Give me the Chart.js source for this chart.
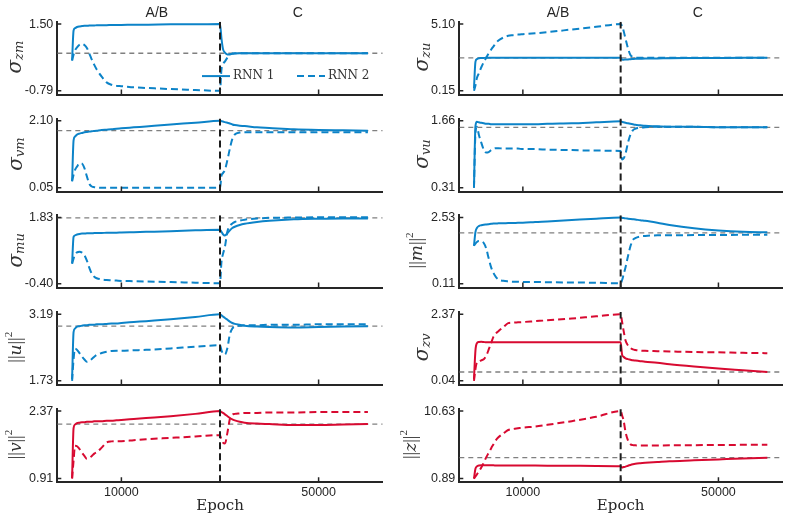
<!DOCTYPE html>
<html>
<head>
<meta charset="utf-8">
<script src="https://cdn.jsdelivr.net/npm/chart.js@4.4.1/dist/chart.umd.min.js"></script>
<style>
    html, body { margin: 0; padding: 0; background: #fff; }
    #wrap { position: relative; width: 792px; height: 519px; overflow: hidden; }
    #wrap canvas { position: absolute; }
</style>
</head>
<body>
<div id="wrap"></div>
<script>
/* ---------- Data ---------- */
const EPOCHS = [0, 300, 600, 1000, 1500, 2000, 2500, 3000, 3500, 4000, 4500, 5000, 6000, 7000, 8000, 9000, 10000,
    12500, 15000, 20000, 25000, 30000, 30300, 30600, 31000, 31500, 32000, 32500, 33000, 34000, 35000, 37500, 40000,
    45000, 50000, 55000, 60000];
const X_TICKS = [10000, 30000, 50000];
const SWITCH_EPOCH = 30000;
const PHASE_LABELS = ["A/B", "C"];
const SERIES_LABELS = ["RNN 1", "RNN 2"];

// sigma_zm
const SIGMA_ZM_TICKS = [-0.79, 1.50];
const SIGMA_ZM_REF = 0.50;
const SIGMA_ZM_RNN1 = [0.25, 1.28, 1.36, 1.40, 1.42, 1.43, 1.44, 1.44, 1.45, 1.45, 1.45, 1.46, 1.46, 1.46, 1.47, 1.47, 1.47,
    1.48, 1.48, 1.49, 1.49, 1.50, 1.00, 0.65, 0.52, 0.46, 0.46, 0.48, 0.49, 0.50, 0.50, 0.50, 0.50, 0.50, 0.50, 0.50, 0.50];
const SIGMA_ZM_RNN2 = [0.25, 0.45, 0.60, 0.70, 0.79, 0.82, 0.78, 0.68, 0.49, 0.28, 0.10, -0.06, -0.30, -0.50, -0.58, -0.62, -0.63,
    -0.67, -0.69, -0.73, -0.76, -0.79, -0.05, 0.12, 0.22, 0.35, 0.46, 0.49, 0.50, 0.50, 0.50, 0.50, 0.50, 0.50, 0.50, 0.50, 0.50];

// sigma_vm
const SIGMA_VM_TICKS = [0.05, 2.10];
const SIGMA_VM_REF = 1.80;
const SIGMA_VM_RNN1 = [0.25, 1.50, 1.62, 1.68, 1.71, 1.73, 1.75, 1.76, 1.77, 1.78, 1.79, 1.80, 1.82, 1.83, 1.84, 1.86, 1.87,
    1.90, 1.93, 1.99, 2.04, 2.10, 2.09, 2.08, 2.06, 2.04, 2.02, 1.99, 1.97, 1.95, 1.94, 1.90, 1.88, 1.84, 1.82, 1.81, 1.80];
const SIGMA_VM_RNN2 = [0.25, 0.45, 0.60, 0.70, 0.80, 0.79, 0.65, 0.40, 0.17, 0.09, 0.07, 0.06, 0.05, 0.05, 0.05, 0.05, 0.05,
    0.05, 0.05, 0.05, 0.05, 0.05, 0.42, 0.50, 0.60, 0.90, 1.25, 1.55, 1.68, 1.74, 1.75, 1.75, 1.75, 1.75, 1.75, 1.75, 1.75];

// sigma_mu
const SIGMA_MU_TICKS = [-0.40, 1.83];
const SIGMA_MU_REF = 1.82;
const SIGMA_MU_RNN1 = [0.28, 1.18, 1.23, 1.26, 1.28, 1.29, 1.29, 1.30, 1.30, 1.30, 1.31, 1.31, 1.31, 1.32, 1.32, 1.32, 1.33,
    1.34, 1.35, 1.37, 1.40, 1.42, 1.35, 1.27, 1.23, 1.30, 1.40, 1.48, 1.52, 1.58, 1.62, 1.68, 1.72, 1.77, 1.79, 1.80, 1.80];
const SIGMA_MU_RNN2 = [0.28, 0.45, 0.58, 0.66, 0.68, 0.65, 0.56, 0.38, 0.14, -0.06, -0.16, -0.21, -0.25, -0.27, -0.28, -0.29, -0.30,
    -0.31, -0.32, -0.34, -0.36, -0.38, 0.35, 0.60, 0.85, 1.36, 1.55, 1.63, 1.68, 1.73, 1.76, 1.80, 1.82, 1.83, 1.84, 1.84, 1.84];

// ||u||^2
const NORM_U_TICKS = [1.73, 3.19];
const NORM_U_REF = 2.93;
const NORM_U_RNN1 = [1.77, 2.80, 2.88, 2.92, 2.93, 2.94, 2.95, 2.95, 2.96, 2.96, 2.96, 2.97, 2.97, 2.98, 2.99, 2.99, 3.00,
    3.02, 3.04, 3.08, 3.13, 3.19, 3.17, 3.14, 3.11, 3.07, 3.03, 3.00, 2.98, 2.96, 2.94, 2.92, 2.91, 2.90, 2.91, 2.92, 2.93];
const NORM_U_RNN2 = [1.73, 2.20, 2.44, 2.41, 2.34, 2.26, 2.20, 2.15, 2.17, 2.21, 2.26, 2.30, 2.34, 2.37, 2.385, 2.39, 2.39,
    2.40, 2.41, 2.44, 2.48, 2.51, 2.40, 2.33, 2.31, 2.45, 2.75, 2.88, 2.92, 2.94, 2.95, 2.95, 2.96, 2.96, 2.97, 2.97, 2.97];

// ||v||^2
const NORM_V_TICKS = [0.91, 2.37];
const NORM_V_REF = 2.09;
const NORM_V_RNN1 = [0.92, 2.00, 2.08, 2.11, 2.12, 2.13, 2.13, 2.14, 2.14, 2.14, 2.15, 2.15, 2.15, 2.16, 2.16, 2.17, 2.18,
    2.20, 2.22, 2.26, 2.31, 2.37, 2.35, 2.33, 2.30, 2.26, 2.22, 2.19, 2.17, 2.14, 2.12, 2.10, 2.09, 2.07, 2.07, 2.08, 2.09];
const NORM_V_RNN2 = [0.91, 1.30, 1.62, 1.61, 1.55, 1.47, 1.40, 1.34, 1.36, 1.40, 1.45, 1.48, 1.58, 1.69, 1.715, 1.72, 1.72,
    1.74, 1.76, 1.79, 1.82, 1.85, 1.75, 1.69, 1.67, 1.90, 2.20, 2.29, 2.31, 2.32, 2.33, 2.33, 2.34, 2.34, 2.35, 2.35, 2.35];

// sigma_zu
const SIGMA_ZU_TICKS = [0.15, 5.10];
const SIGMA_ZU_REF = 2.60;
const SIGMA_ZU_RNN1 = [0.32, 2.30, 2.50, 2.56, 2.58, 2.59, 2.60, 2.60, 2.60, 2.60, 2.60, 2.60, 2.60, 2.60, 2.60, 2.60, 2.60,
    2.60, 2.60, 2.60, 2.60, 2.60, 2.47, 2.46, 2.47, 2.48, 2.50, 2.51, 2.52, 2.53, 2.54, 2.55, 2.57, 2.58, 2.59, 2.60, 2.60];
const SIGMA_ZU_RNN2 = [0.15, 0.55, 1.10, 1.45, 1.90, 2.28, 2.60, 2.92, 3.20, 3.45, 3.70, 3.88, 4.10, 4.23, 4.28, 4.32, 4.35,
    4.42, 4.50, 4.70, 4.90, 5.10, 4.95, 4.60, 4.00, 3.30, 2.80, 2.66, 2.62, 2.60, 2.60, 2.60, 2.60, 2.60, 2.60, 2.60, 2.60];

// sigma_vu
const SIGMA_VU_TICKS = [0.31, 1.66];
const SIGMA_VU_REF = 1.53;
const SIGMA_VU_RNN1 = [0.31, 1.55, 1.64, 1.63, 1.62, 1.61, 1.60, 1.60, 1.59, 1.59, 1.59, 1.59, 1.59, 1.59, 1.59, 1.59, 1.59,
    1.59, 1.60, 1.61, 1.63, 1.65, 1.64, 1.63, 1.62, 1.61, 1.60, 1.59, 1.58, 1.57, 1.56, 1.55, 1.54, 1.54, 1.53, 1.53, 1.53];
const SIGMA_VU_RNN2 = [0.31, 1.40, 1.54, 1.38, 1.22, 1.08, 1.02, 1.03, 1.07, 1.10, 1.11, 1.11, 1.10, 1.10, 1.10, 1.10, 1.09,
    1.09, 1.08, 1.07, 1.06, 1.05, 0.88, 0.90, 1.00, 1.22, 1.38, 1.47, 1.50, 1.52, 1.53, 1.54, 1.54, 1.54, 1.53, 1.53, 1.53];

// ||m||^2
const NORM_M_TICKS = [0.11, 2.53];
const NORM_M_REF = 1.97;
const NORM_M_RNN1 = [1.50, 2.00, 2.15, 2.22, 2.25, 2.27, 2.28, 2.29, 2.30, 2.31, 2.31, 2.32, 2.32, 2.33, 2.33, 2.34, 2.34,
    2.37, 2.39, 2.44, 2.49, 2.53, 2.52, 2.51, 2.50, 2.49, 2.48, 2.47, 2.46, 2.43, 2.41, 2.34, 2.26, 2.14, 2.06, 2.01, 1.99];
const NORM_M_RNN2 = [1.50, 1.58, 1.64, 1.67, 1.66, 1.60, 1.40, 1.05, 0.72, 0.50, 0.36, 0.27, 0.22, 0.20, 0.19, 0.19, 0.18,
    0.18, 0.17, 0.16, 0.15, 0.13, 0.25, 0.45, 0.72, 1.12, 1.48, 1.71, 1.78, 1.84, 1.86, 1.88, 1.88, 1.89, 1.89, 1.90, 1.90];

// sigma_zv
const SIGMA_ZV_TICKS = [0.04, 2.37];
const SIGMA_ZV_REF = 0.35;
const SIGMA_ZV_RNN1 = [0.10, 1.10, 1.36, 1.40, 1.41, 1.40, 1.39, 1.39, 1.39, 1.39, 1.39, 1.39, 1.39, 1.39, 1.39, 1.39, 1.39,
    1.39, 1.39, 1.39, 1.39, 1.39, 0.95, 0.88, 0.83, 0.80, 0.78, 0.76, 0.75, 0.73, 0.71, 0.67, 0.62, 0.54, 0.47, 0.41, 0.35];
const SIGMA_ZV_RNN2 = [0.04, 0.45, 0.68, 0.72, 0.76, 0.80, 0.92, 1.13, 1.36, 1.59, 1.70, 1.78, 1.92, 2.06, 2.08, 2.09, 2.10,
    2.13, 2.16, 2.22, 2.30, 2.37, 2.10, 1.80, 1.45, 1.28, 1.19, 1.14, 1.12, 1.10, 1.09, 1.08, 1.07, 1.05, 1.04, 1.02, 1.01];

// ||z||^2
const NORM_Z_TICKS = [0.89, 10.63];
const NORM_Z_REF = 3.91;
const NORM_Z_RNN1 = [0.89, 2.30, 2.65, 2.78, 2.80, 2.80, 2.80, 2.80, 2.80, 2.80, 2.79, 2.79, 2.79, 2.79, 2.78, 2.78, 2.78,
    2.77, 2.76, 2.74, 2.72, 2.68, 2.50, 2.55, 2.62, 2.75, 2.86, 2.95, 3.02, 3.10, 3.16, 3.28, 3.40, 3.52, 3.66, 3.80, 3.91];
const NORM_Z_RNN2 = [0.89, 1.20, 1.50, 1.90, 2.50, 3.20, 3.95, 4.60, 5.25, 5.85, 6.45, 6.85, 7.40, 7.90, 8.05, 8.15, 8.25,
    8.40, 8.65, 9.18, 9.80, 10.63, 10.00, 9.30, 7.60, 6.40, 5.85, 5.72, 5.69, 5.68, 5.68, 5.68, 5.69, 5.71, 5.74, 5.76, 5.78];

/* ---------- Styles / layout ---------- */
const BLUE = "#0c83c8";
const RED = "#d80a31";
const AXIS_COLOR = "#262626";
const TEXT_COLOR = "#262626";
const SANS = '"Liberation Sans", Arial, sans-serif';
const SERIF = '"DejaVu Serif", serif';
const TIMES = '"Liberation Serif", serif';

const X_MIN = -3000, X_MAX = 63000;
const COL_X = [0, 400];
const PLOT_LEFT = [57.3, 59.3];
const PLOT_RIGHT_PAD = [9.3, 10];
const CANVAS_W = 392;
const ROW_BOTTOM0 = 95.3, ROW_PITCH = 96.75, PLOT_H = 73.5, TOP_SPACE = 20;
const TOP_GAP_PX = 2.3, BOTTOM_GAP_PX = 3.7; // distance of end ticks from plot edges
const LABEL_BASE_X = [[20.7, 21.7, 21.7, 20.5, 20.5], [28.3, 28.3, 21.7, 28.3, 15.5]];
const PHASE_LABEL_X = [17200, 45800];
const LEGEND_X = [144.7, 239.7], LEGEND_DY = 54.3;

function sigmaLabel(sub) {
    return [
        { text: "σ", font: "italic 20px " + SERIF },
        { text: sub, font: "italic 13px " + SERIF, dy: 2 }
    ];
}
function normLabel(v) {
    return [
        { text: "||", font: "18px " + TIMES },
        { text: v, font: "italic 17px " + SERIF },
        { text: "||", font: "18px " + TIMES },
        { text: "2", font: "11px " + TIMES, dy: -9 }
    ];
}

const PANELS = [
    [
        { rnn1: SIGMA_ZM_RNN1, rnn2: SIGMA_ZM_RNN2, ticks: SIGMA_ZM_TICKS, ref: SIGMA_ZM_REF, color: BLUE, label: sigmaLabel("zm") },
        { rnn1: SIGMA_VM_RNN1, rnn2: SIGMA_VM_RNN2, ticks: SIGMA_VM_TICKS, ref: SIGMA_VM_REF, color: BLUE, label: sigmaLabel("vm") },
        { rnn1: SIGMA_MU_RNN1, rnn2: SIGMA_MU_RNN2, ticks: SIGMA_MU_TICKS, ref: SIGMA_MU_REF, color: BLUE, label: sigmaLabel("mu") },
        { rnn1: NORM_U_RNN1, rnn2: NORM_U_RNN2, ticks: NORM_U_TICKS, ref: NORM_U_REF, color: BLUE, label: normLabel("u") },
        { rnn1: NORM_V_RNN1, rnn2: NORM_V_RNN2, ticks: NORM_V_TICKS, ref: NORM_V_REF, color: RED, label: normLabel("v") }
    ],
    [
        { rnn1: SIGMA_ZU_RNN1, rnn2: SIGMA_ZU_RNN2, ticks: SIGMA_ZU_TICKS, ref: SIGMA_ZU_REF, color: BLUE, label: sigmaLabel("zu") },
        { rnn1: SIGMA_VU_RNN1, rnn2: SIGMA_VU_RNN2, ticks: SIGMA_VU_TICKS, ref: SIGMA_VU_REF, color: BLUE, label: sigmaLabel("vu") },
        { rnn1: NORM_M_RNN1, rnn2: NORM_M_RNN2, ticks: NORM_M_TICKS, ref: NORM_M_REF, color: BLUE, label: normLabel("m") },
        { rnn1: SIGMA_ZV_RNN1, rnn2: SIGMA_ZV_RNN2, ticks: SIGMA_ZV_TICKS, ref: SIGMA_ZV_REF, color: RED, label: sigmaLabel("zv") },
        { rnn1: NORM_Z_RNN1, rnn2: NORM_Z_RNN2, ticks: NORM_Z_TICKS, ref: NORM_Z_REF, color: RED, label: normLabel("z") }
    ]
];

/* ---------- Decorations plugin ---------- */
function drawRotatedLabel(ctx, parts, bx, cy) {
    ctx.save();
    ctx.translate(bx, cy);
    ctx.rotate(-Math.PI / 2);
    ctx.textAlign = "left";
    ctx.textBaseline = "alphabetic";
    ctx.fillStyle = "#333";
    let w = 0;
    parts.forEach(p => { ctx.font = p.font; w += ctx.measureText(p.text).width; });
    let x = -w / 2;
    parts.forEach(p => {
        ctx.font = p.font;
        ctx.fillText(p.text, x, p.dy || 0);
        x += ctx.measureText(p.text).width;
    });
    ctx.restore();
}

const panelDecor = {
    id: "panelDecor",
    afterDraw(chart, args, opts) {
        const { ctx, chartArea: a, scales: { x, y } } = chart;
        ctx.save();

        // inward tick marks
        ctx.strokeStyle = AXIS_COLOR;
        ctx.lineWidth = 1.5;
        ctx.beginPath();
        x.ticks.forEach(t => {
            const px = x.getPixelForValue(t.value);
            ctx.moveTo(px, a.bottom);
            ctx.lineTo(px, a.bottom - 5);
        });
        y.ticks.forEach(t => {
            const py = y.getPixelForValue(t.value);
            ctx.moveTo(a.left, py);
            ctx.lineTo(a.left + 4, py);
        });
        ctx.stroke();

        // y label
        drawRotatedLabel(ctx, opts.label, opts.labelX, (a.top + a.bottom) / 2 - 1);

        // phase labels
        if (opts.phases) {
            ctx.font = "14px " + SANS;
            ctx.fillStyle = TEXT_COLOR;
            ctx.textAlign = "center";
            ctx.textBaseline = "middle";
            PHASE_LABELS.forEach((s, i) => ctx.fillText(s, x.getPixelForValue(PHASE_LABEL_X[i]), a.top - 8.5));
        }

        // legend
        if (opts.legend) {
            const ly = a.top + LEGEND_DY;
            chart.data.datasets.filter(d => SERIES_LABELS.includes(d.label)).forEach((d, i) => {
                const x0 = a.left + LEGEND_X[i];
                ctx.strokeStyle = d.borderColor;
                ctx.lineWidth = d.borderWidth;
                ctx.setLineDash(d.borderDash || []);
                ctx.beginPath();
                ctx.moveTo(x0, ly);
                ctx.lineTo(x0 + 28, ly);
                ctx.stroke();
                ctx.setLineDash([]);
                ctx.fillStyle = "#333";
                ctx.font = "12px " + SERIF;
                ctx.textAlign = "left";
                ctx.textBaseline = "middle";
                ctx.fillText(d.label, x0 + 31, ly);
            });
        }
        ctx.restore();
    }
};

/* ---------- Charts ---------- */
const pts = vals => EPOCHS.map((e, i) => ({ x: e, y: vals[i] }));

function makePanel(p, row, col, nRows) {
    const wrap = document.getElementById("wrap");
    const bottom = ROW_BOTTOM0 + row * ROW_PITCH;
    const top = bottom - PLOT_H;
    const isLast = row === nRows - 1;
    const xh = isLast ? 36 : 10;
    const cTop = Math.floor(top - TOP_SPACE);
    const padTop = top - cTop;
    const h = Math.ceil(padTop + PLOT_H + xh);
    const padBottom = h - (padTop + PLOT_H + xh);

    const canvas = document.createElement("canvas");
    canvas.width = CANVAS_W;
    canvas.height = h;
    canvas.style.left = COL_X[col] + "px";
    canvas.style.top = cTop + "px";
    wrap.appendChild(canvas);

    const k = (p.ticks[1] - p.ticks[0]) / (PLOT_H - TOP_GAP_PX - BOTTOM_GAP_PX);
    const yMin = p.ticks[0] - BOTTOM_GAP_PX * k;
    const yMax = p.ticks[1] + TOP_GAP_PX * k;

    new Chart(canvas.getContext("2d"), {
        type: "line",
        data: {
            datasets: [
                { label: "switch", data: [{ x: SWITCH_EPOCH, y: yMin }, { x: SWITCH_EPOCH, y: yMax }],
                  borderColor: "#1c1c1c", borderWidth: 2, borderDash: [7, 4], pointRadius: 0, order: 0 },
                { label: SERIES_LABELS[0], data: pts(p.rnn1), borderColor: p.color, borderWidth: 2,
                  pointRadius: 0, cubicInterpolationMode: "monotone", order: 1 },
                { label: SERIES_LABELS[1], data: pts(p.rnn2), borderColor: p.color, borderWidth: 2,
                  borderDash: [7, 4], pointRadius: 0, cubicInterpolationMode: "monotone", order: 2 },
                { label: "reference", data: [{ x: X_MIN, y: p.ref }, { x: X_MAX, y: p.ref }],
                  borderColor: "#808080", borderWidth: 1.3, borderDash: [5, 4], pointRadius: 0, order: 3 }
            ]
        },
        options: {
            responsive: false,
            animation: false,
            events: [],
            layout: { padding: { top: padTop, bottom: padBottom, left: 0, right: PLOT_RIGHT_PAD[col] } },
            plugins: {
                legend: { display: false },
                tooltip: { enabled: false },
                panelDecor: { label: p.label, labelX: LABEL_BASE_X[col][row], phases: row === 0, legend: row === 0 && col === 0 }
            },
            scales: {
                x: {
                    type: "linear",
                    min: X_MIN,
                    max: X_MAX,
                    afterBuildTicks: s => { s.ticks = X_TICKS.map(v => ({ value: v })); },
                    afterFit: s => { s.height = xh; },
                    grid: { display: false, drawTicks: false },
                    border: { display: true, color: AXIS_COLOR, width: 2 },
                    ticks: {
                        display: isLast,
                        padding: 3,
                        maxRotation: 0,
                        autoSkip: false,
                        color: TEXT_COLOR,
                        font: { family: SANS, size: 12.5 },
                        callback: v => (v === SWITCH_EPOCH ? "" : String(v))
                    },
                    title: {
                        display: isLast,
                        text: "Epoch",
                        color: TEXT_COLOR,
                        font: { family: SERIF, size: 15 },
                        padding: { top: 0, bottom: 3 }
                    }
                },
                y: {
                    min: yMin,
                    max: yMax,
                    afterBuildTicks: s => { s.ticks = p.ticks.map(v => ({ value: v })); },
                    afterFit: s => { s.width = PLOT_LEFT[col]; },
                    grid: { display: false, drawTicks: false },
                    border: { display: true, color: AXIS_COLOR, width: 2 },
                    ticks: {
                        padding: 4,
                        color: TEXT_COLOR,
                        font: { family: SANS, size: 12.5 },
                        callback: v => Number(v).toFixed(2)
                    }
                }
            }
        },
        plugins: [panelDecor]
    });
}

function init() {
    PANELS.forEach((column, col) => column.forEach((p, row) => makePanel(p, row, col, column.length)));
}

document.addEventListener("DOMContentLoaded", init);
</script>
</body>
</html>
